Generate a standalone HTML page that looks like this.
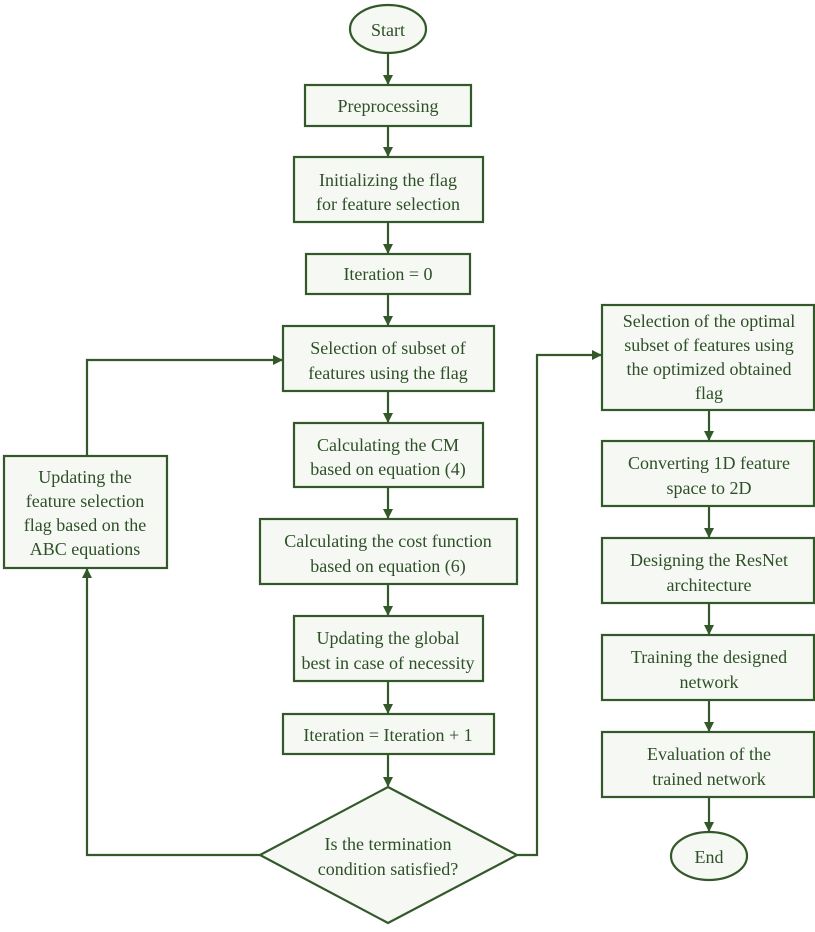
<!DOCTYPE html>
<html><head><style>
body{margin:0;background:#fff}
svg text{font-family:"Liberation Serif",serif;font-size:18px;fill:#2f4f28;text-anchor:middle}
</style></head><body>
<svg width="815" height="927" viewBox="0 0 815 927" xmlns="http://www.w3.org/2000/svg">
<defs><marker id="a" markerWidth="10" markerHeight="10" refX="9" refY="5" orient="auto" markerUnits="userSpaceOnUse"><path d="M0,0 L10,5 L0,10 z" fill="#33592a"/></marker></defs>
<g fill="#f5f8f3" stroke="#33592a" stroke-width="2.2">
<ellipse cx="388" cy="29" rx="38" ry="24"/>
<rect x="305" y="85" width="166" height="41"/>
<rect x="294" y="157" width="189" height="65"/>
<rect x="306" y="254" width="164" height="40"/>
<rect x="283" y="326" width="211" height="65"/>
<rect x="294" y="423" width="189" height="64"/>
<rect x="260" y="519" width="257" height="65"/>
<rect x="294" y="616" width="189" height="65"/>
<rect x="283" y="714" width="211" height="40"/>
<path d="M388,787 L517,855 L388,923 L260,855 Z"/>
<rect x="4" y="456" width="163" height="112"/>
<rect x="602" y="305" width="212" height="105"/>
<rect x="602" y="441" width="212" height="65"/>
<rect x="602" y="538" width="212" height="65"/>
<rect x="602" y="635" width="212" height="65"/>
<rect x="602" y="732" width="212" height="65"/>
<ellipse cx="709" cy="856" rx="38" ry="24"/>
</g>
<g stroke="#33592a" stroke-width="2.2" fill="none" marker-end="url(#a)">
<path d="M388,53 V84"/><path d="M388,126 V156"/><path d="M388,222 V253"/><path d="M388,294 V325"/>
<path d="M388,391 V422"/><path d="M388,487 V518"/><path d="M388,584 V615"/><path d="M388,681 V713"/><path d="M388,754 V786"/>
<path d="M260,855 H87 V569"/><path d="M87,456 V360 H282"/>
<path d="M517,855 H537 V355 H601"/>
<path d="M709,410 V440"/><path d="M709,506 V537"/><path d="M709,603 V634"/><path d="M709,700 V731"/><path d="M709,797 V831"/>
</g>
<text x="388" y="36">Start</text>
<text x="388" y="112">Preprocessing</text>
<text x="388" y="186">Initializing the flag</text><text x="388" y="210">for feature selection</text>
<text x="388" y="280">Iteration = 0</text>
<text x="388" y="354">Selection of subset of</text><text x="388" y="379">features using the flag</text>
<text x="388" y="451">Calculating the CM</text><text x="388" y="475">based on equation (4)</text>
<text x="388" y="547">Calculating the cost function</text><text x="388" y="572">based on equation (6)</text>
<text x="388" y="644">Updating the global</text><text x="388" y="669">best in case of necessity</text>
<text x="388" y="741">Iteration = Iteration + 1</text>
<text x="388" y="850">Is the termination</text><text x="388" y="875">condition satisfied?</text>
<text x="85" y="483">Updating the</text><text x="85" y="507">feature selection</text><text x="85" y="531">flag based on the</text><text x="85" y="555">ABC equations</text>
<text x="709" y="327">Selection of the optimal</text><text x="709" y="351">subset of features using</text><text x="709" y="375">the optimized obtained</text><text x="709" y="399">flag</text>
<text x="709" y="469">Converting 1D feature</text><text x="709" y="494">space to 2D</text>
<text x="709" y="566">Designing the ResNet</text><text x="709" y="591">architecture</text>
<text x="709" y="663">Training the designed</text><text x="709" y="688">network</text>
<text x="709" y="760">Evaluation of the</text><text x="709" y="785">trained network</text>
<text x="709" y="863">End</text>
</svg>
</body></html>
